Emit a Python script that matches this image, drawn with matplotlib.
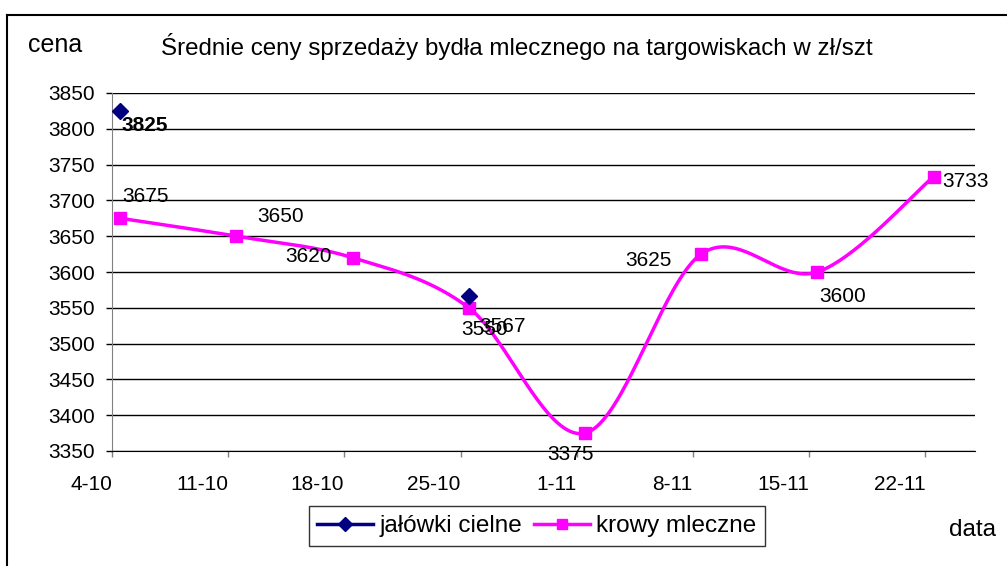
import numpy as np
import matplotlib.pyplot as plt
from matplotlib.lines import Line2D

plt.rcParams['font.family'] = ['Liberation Sans', 'DejaVu Sans']

# dane z wykresu
etykiety_osi = ['4-10', '11-10', '18-10', '25-10', '1-11', '8-11', '15-11', '22-11']
dni = [0, 7, 14, 21, 28, 35, 42, 49]        # dni od 4-10
krowy_mleczne = [3675, 3650, 3620, 3550, 3375, 3625, 3600, 3733]
jalowki_cielne = [3825, np.nan, np.nan, 3567, np.nan, np.nan, np.nan, np.nan]

# przesuniecia etykiet danych w pikselach (dx, dy)
off_krowy = [(25, 22), (44, 20), (-44, 1), (16, -22), (-14, -21), (-53, -6), (25, -24), (32, -5)]
off_jalowki = [(24, -15), None, None, (34, -31)]

ROZ = '#FF00FF'
GRAN = '#000080'


# wygladzona linia jak w excelu (bezier / catmull-rom)
def wygladz(xs, ys, n=40):
    p = np.column_stack([xs, ys]).astype(float)
    p = np.vstack([p[0], p, p[-1]])
    out = []
    for i in range(1, len(p) - 2):
        p0, p1, p2, p3 = p[i - 1], p[i], p[i + 1], p[i + 2]
        c1 = p1 + (p2 - p0) / 6
        c2 = p2 - (p3 - p1) / 6
        t = np.linspace(0, 1, n)[:, None]
        out.append((1 - t)**3 * p1 + 3 * (1 - t)**2 * t * c1 + 3 * (1 - t) * t**2 * c2 + t**3 * p2)
    return np.vstack(out)


fig = plt.figure(figsize=(10.07, 5.66), dpi=100)
ax = fig.add_axes([112 / 1007, 1 - 451 / 566, (975 - 112) / 1007, (451 - 93) / 566])

x = np.array(dni) + 0.5   # punkt w srodku dnia
krzywa = wygladz(x, krowy_mleczne)
ax.plot(krzywa[:, 0], krzywa[:, 1], color=ROZ, lw=2.5, zorder=3, solid_capstyle='round')
ax.plot(x, krowy_mleczne, 's', color=ROZ, ms=8.3, zorder=4)
ax.plot(x, jalowki_cielne, 'D', color=GRAN, ms=8, zorder=5)

for xi, yi, o in zip(x, krowy_mleczne, off_krowy):
    ax.annotate(str(yi), (xi, yi), xytext=o, textcoords='offset pixels',
                ha='center', va='center', fontsize=15, zorder=6)
for xi, yi, o in zip(x, jalowki_cielne, off_jalowki):
    if o is None or np.isnan(yi):
        continue
    w = 'bold' if yi > 3800 else 'normal'
    ax.annotate(str(int(yi)), (xi, yi), xytext=o, textcoords='offset pixels',
                ha='center', va='center', fontsize=15, fontweight=w, zorder=6)

# osie
ax.set_xlim(0, 52)
ax.set_ylim(3350, 3850)
ax.set_yticks(np.arange(3350, 3851, 50))
ax.set_xticks(dni)
ax.set_xticklabels(etykiety_osi, ha='right')
ax.grid(axis='y', color='black', lw=1)
ax.set_axisbelow(True)
for s in ['top', 'right']:
    ax.spines[s].set_visible(False)
ax.spines['left'].set_color('#808080')
ax.spines['bottom'].set_color('black')
ax.tick_params(axis='y', length=4.5, width=1, color='black', pad=8, labelsize=15)
ax.tick_params(axis='x', length=4, width=1, color='#808080', pad=13, labelsize=15)

# teksty
fig.text(517 / 1007, 1 - 47 / 566, 'Średnie ceny sprzedaży bydła mlecznego na targowiskach w zł/szt',
         ha='center', va='center', fontsize=17.4)
fig.text(55 / 1007, 1 - 45 / 566, 'cena', ha='center', va='center', fontsize=18)
fig.text(973 / 1007, 1 - 530 / 566, 'data', ha='center', va='center', fontsize=17.5)

# legenda
uchwyty = [Line2D([], [], color=GRAN, lw=2.5, marker='D', ms=7),
           Line2D([], [], color=ROZ, lw=2.5, marker='s', ms=7.5)]
leg = fig.legend(uchwyty, ['jałówki cielne', 'krowy mleczne'], loc='center',
                 bbox_to_anchor=(537 / 1007, 1 - 526 / 566), ncol=2, fontsize=17.5,
                 frameon=True, fancybox=False, edgecolor='black', handlelength=2.3,
                 handletextpad=0.25, columnspacing=0.5, borderpad=0.35)
leg.get_frame().set_linewidth(1)

# ramka wykresu
fig.add_artist(Line2D([7 / 1007, 1], [1 - 15 / 566, 1 - 15 / 566], color='black', lw=1.5, transform=fig.transFigure))
fig.add_artist(Line2D([7 / 1007, 7 / 1007], [1 - 15 / 566, 0], color='black', lw=1.5, transform=fig.transFigure))

fig.savefig('out.png', dpi=100)
